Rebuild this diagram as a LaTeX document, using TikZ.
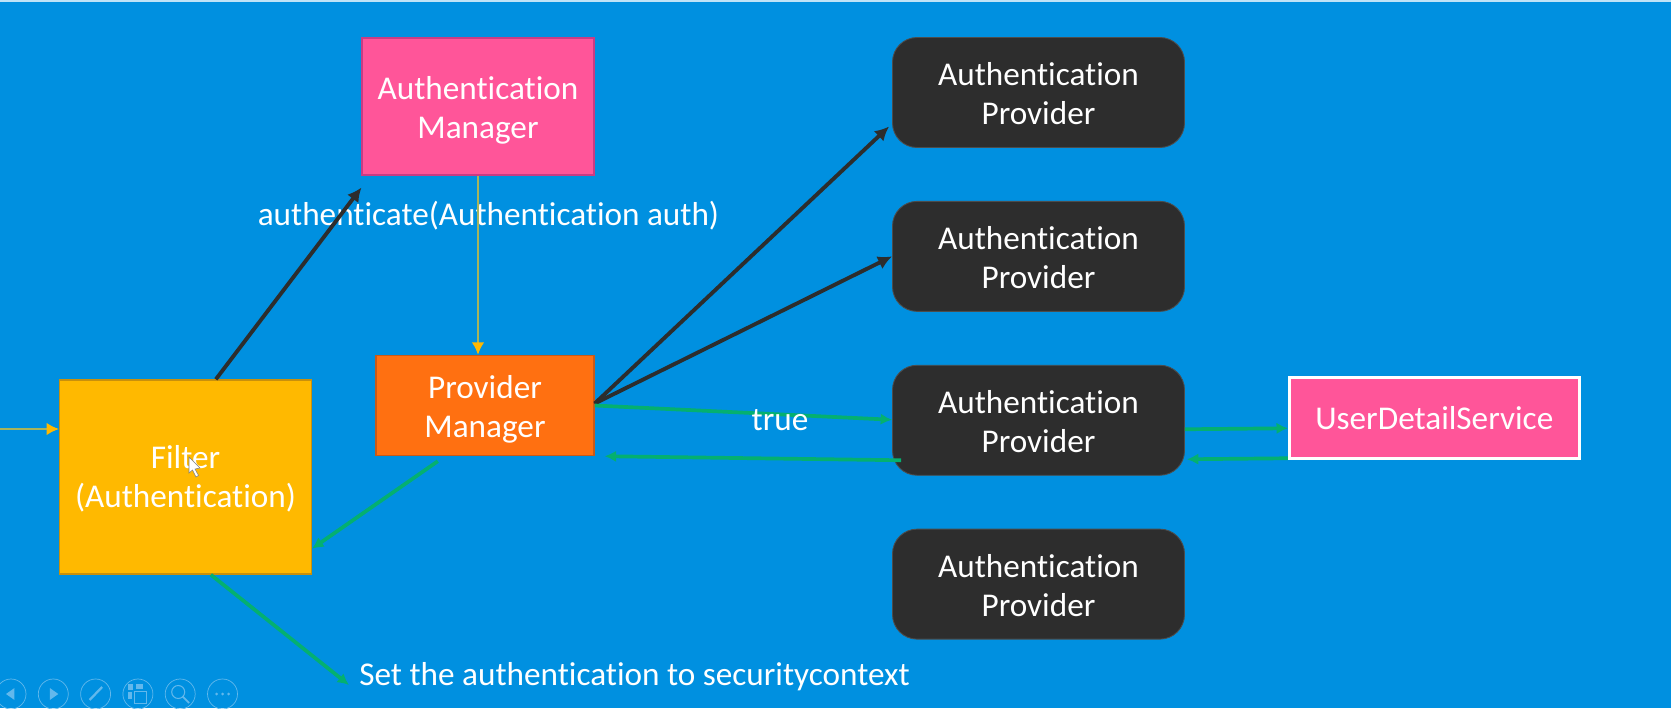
\documentclass[tikz,border=0pt]{standalone}
\usepackage{fontspec}
\setmainfont[Ligatures=NoCommon]{Carlito}
\usepackage{xcolor}
\usetikzlibrary{arrows.meta,positioning,calc}
\definecolor{slideblue}{HTML}{0090E0}
\definecolor{pinkfill}{HTML}{FF5599}
\definecolor{pinkedge}{HTML}{C83C84}
\definecolor{orangefill}{HTML}{FF7011}
\definecolor{orangeedge}{HTML}{C85A18}
\definecolor{amberfill}{HTML}{FFB900}
\definecolor{amberedge}{HTML}{C8900C}
\definecolor{darkfill}{HTML}{2D2D2D}
\definecolor{greenline}{HTML}{04B070}
\definecolor{yellowline}{HTML}{A8B45C}
\definecolor{yellowtip}{HTML}{FFB900}
\definecolor{iconline}{HTML}{62B8EC}
\newcommand{\lowered}[1]{\rule{0pt}{#1}}
\tikzset{
  label/.style={text=white, font=\fontsize{18.9}{22.2}\selectfont, align=center},
  mgrbox/.style={label, draw=pinkedge, fill=pinkfill, line width=0.6pt, minimum width=4.64cm, minimum height=2.74cm},
  pmbox/.style={label, draw=orangeedge, fill=orangefill, line width=0.8pt, minimum width=4.36cm, minimum height=2cm},
  filterbox/.style={label, draw=amberedge, fill=amberfill, line width=0.8pt, minimum width=5.03cm, minimum height=3.88cm},
  provbox/.style={label, draw=black!70, fill=darkfill, rounded corners=14pt, line width=0.5pt, minimum width=5.84cm, minimum height=2.2cm},
  udsbox/.style={label, draw=white, fill=pinkfill, line width=1.6pt, minimum width=5.8cm, minimum height=1.62cm},
  plain/.style={label, inner sep=0pt},
  darkline/.style={-{Latex[length=8pt,width=8pt]}, darkfill, line width=2.2pt},
  greenarrow/.style={-{Latex[length=6.5pt,width=6.5pt]}, greenline, line width=2.1pt},
  yellowarrow/.style={-{Latex[length=7pt,width=7pt,yellowtip]}, yellowline, line width=1pt},
  icon/.style={draw=iconline, line width=0.4pt, circle, minimum size=0.6cm, inner sep=0pt},
  glyph/.style={fill=iconline, draw=none}
}
\begin{document}
\begin{tikzpicture}
  \useasboundingbox (0,0) rectangle (33.42,14.16);
  \fill[slideblue] (0,0) rectangle (33.42,14.16);
  \fill[white!75!slideblue] (0,14.12) rectangle (33.42,14.16);
  \node[mgrbox] (mgr) at (9.56,12.03) {\lowered{18pt}Authentication\\Manager};
  \node[pmbox] (pm) at (9.70,6.05) {\lowered{17pt}Provider\\Manager};
  \node[filterbox] (fltr) at (3.71,4.62) {\lowered{15pt}Filter\\(Authentication)};
  \node[provbox] (prov1) at (20.77,12.31) {\lowered{14.5pt}Authentication\\Provider};
  \node[provbox, below=1.06cm of prov1] (prov2) {\lowered{14.5pt}Authentication\\Provider};
  \node[provbox, below=1.06cm of prov2] (prov3) {\lowered{14.5pt}Authentication\\Provider};
  \node[provbox, below=1.06cm of prov3] (prov4) {\lowered{14.5pt}Authentication\\Provider};
  \node[udsbox, right=2.06cm of prov3, yshift=0.04cm] (uds) {UserDetailService};
  \node[plain] (authcall) at (9.77,9.84) {authenticate(Authentication auth)};
  \node[plain, anchor=west] (setctx) at (7.18,0.62) {Set the authentication to securitycontext};
  \coordinate (entry) at (0,5.58);
  % connectors
  \draw[yellowarrow] (entry) -- (fltr.west |- entry);
  \draw[darkline] ($(fltr.north west)!0.62!(fltr.north east)$) -- ($(mgr.south west)+(0,-0.24)$);
  \draw[yellowarrow] (mgr.south) -- (mgr.south |- pm.north);
  \draw[darkline] ($(pm.east)+(0,0.04)$) -- ($(prov1.west)+(-0.06,-0.68)$);
  \draw[darkline] ($(pm.east)+(0,0.04)$) -- (prov2.west);
  \draw[greenarrow] (pm.east) -- ($(prov3.west)+(0,0.01)$);
  \draw[greenarrow] ($(prov3.west)+(0.18,-0.8)$) -- ($(pm.south east)+(0.2,0)$);
  \draw[greenarrow] ($(prov3.east)+(0,-0.18)$) -- ($(uds.west)+(0,-0.2)$);
  \draw[greenarrow] ($(uds.west)+(0,-0.8)$) -- ($(prov3.east)+(0.04,-0.78)$);
  \draw[greenarrow] ($(pm.south west)!0.285!(pm.south east)+(0,-0.1)$) -- ($(fltr.south east)+(0,0.52)$);
  \draw[greenarrow] ($(fltr.south west)!0.60!(fltr.south east)$) -- ($(setctx.west)+(-0.2,-0.16)$);
  \node[plain] (truelbl) at (15.6,5.75) {true};
  % slide show controls
  \node[icon] (ctlback) at (0.22,0.28) {};
  \node[icon, right=0.232cm of ctlback] (ctlnext) {};
  \node[icon, right=0.232cm of ctlnext] (ctlpen) {};
  \node[icon, right=0.232cm of ctlpen] (ctlgrid) {};
  \node[icon, right=0.232cm of ctlgrid] (ctlzoom) {};
  \node[icon, right=0.232cm of ctlzoom] (ctlmore) {};
  \fill[glyph] ($(ctlback)+(-0.1,0)$) -- ++(0.17,0.12) -- ++(0,-0.24) -- cycle;
  \fill[glyph] ($(ctlnext)+(0.1,0)$) -- ++(-0.17,0.12) -- ++(0,-0.24) -- cycle;
  \draw[iconline, line width=1.3pt] ($(ctlpen)+(-0.12,-0.12)$) -- ($(ctlpen)+(0.13,0.14)$);
  \draw[iconline, line width=0.5pt] ($(ctlgrid)+(-0.06,-0.18)$) rectangle ($(ctlgrid)+(0.18,0.06)$);
  \fill[glyph] ($(ctlgrid)+(-0.2,0.09)$) rectangle ($(ctlgrid)+(-0.09,0.2)$);
  \fill[glyph] ($(ctlgrid)+(-0.03,0.11)$) rectangle ($(ctlgrid)+(0.1,0.2)$);
  \fill[glyph] ($(ctlgrid)+(-0.2,-0.09)$) rectangle ($(ctlgrid)+(-0.11,0.04)$);
  \draw[iconline, line width=0.6pt] ($(ctlzoom)+(-0.04,0.04)$) circle (0.13);
  \draw[iconline, line width=1pt] ($(ctlzoom)+(0.05,-0.05)$) -- ($(ctlzoom)+(0.18,-0.18)$);
  \foreach \dotx in {-0.12,0,0.12} \fill[glyph] ($(ctlmore)+(\dotx,0)$) circle (0.03);
  % mouse pointer
  \draw[fill=white, draw=gray, line width=0.3pt] (3.78,5.02) -- (3.78,4.70) -- (3.85,4.76) -- (3.92,4.62) -- (3.97,4.65) -- (3.90,4.78) -- (4.0,4.80) -- cycle;
\end{tikzpicture}
\end{document}
